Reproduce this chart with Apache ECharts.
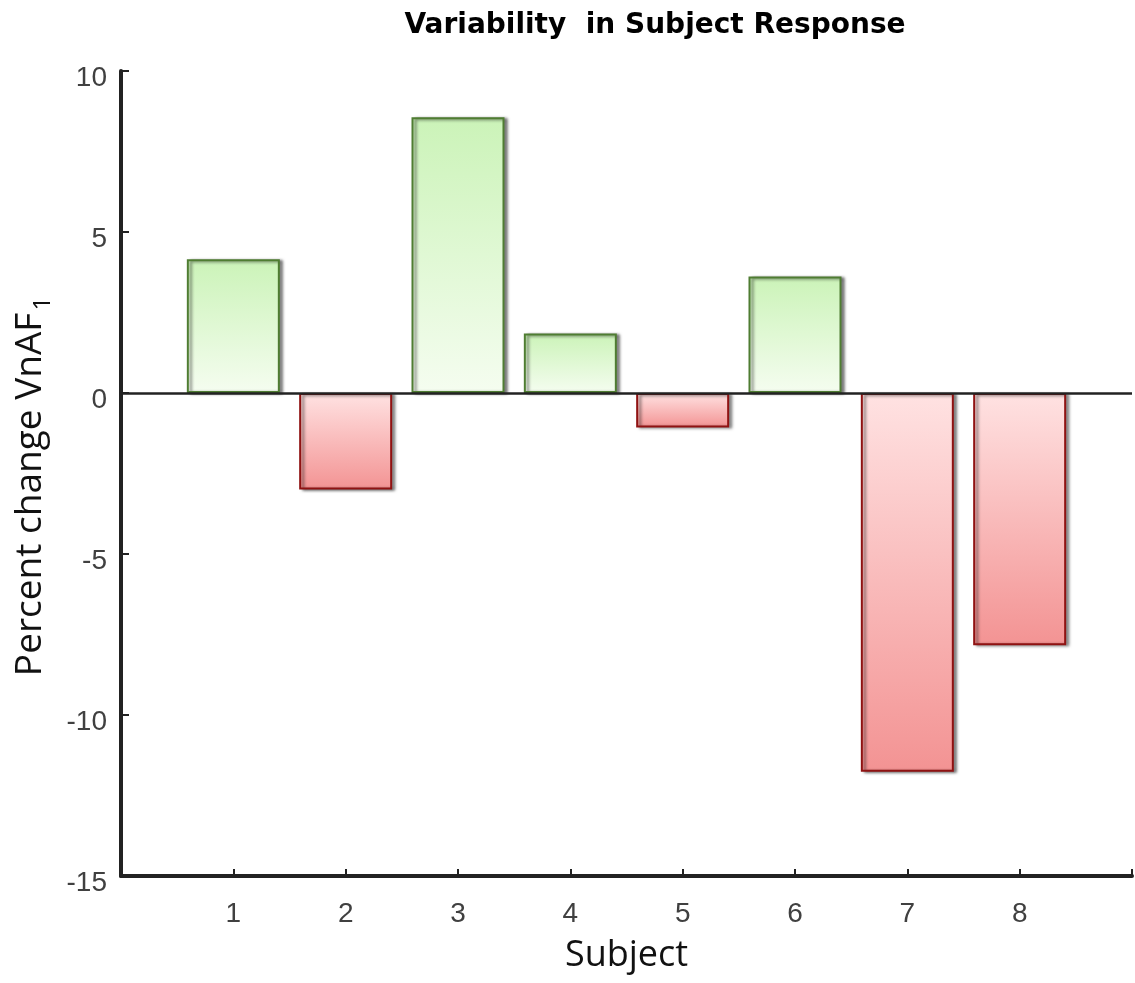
<!DOCTYPE html>
<html>
<head>
<meta charset="utf-8">
<script src="https://cdn.jsdelivr.net/npm/echarts@6/dist/echarts.min.js"></script>
<style>
  html, body { margin: 0; padding: 0; background: #fff; }
  #chart { width: 1135px; height: 983px; }
</style>
</head>
<body>
<div id="chart"></div>
<script>
// subjects and percent change values
const subjects = [1, 2, 3, 4, 5, 6, 7, 8];
const changes = [4.15, -3.0, 8.56, 1.85, -1.07, 3.62, -11.76, -7.83];
const yTicks = [-15, -10, -5, 0, 5, 10];

const chart = echarts.init(document.getElementById('chart'));

// green for increase, red for decrease
function barStyle(v) {
  if (v >= 0) {
    return {
      color: new echarts.graphic.LinearGradient(0, 0, 0, 1, [
        {offset: 0, color: '#cbf3b8'},
        {offset: 1, color: '#f5fdf0'}
      ]),
      borderColor: '#4f7d32',
      borderWidth: 2,
      shadowColor: 'rgba(0,0,0,0.5)',
      shadowOffsetX: 3,
      shadowOffsetY: 1,
      shadowBlur: 3
    };
  }
  return {
    color: new echarts.graphic.LinearGradient(0, 0, 0, 1, [
      {offset: 0, color: '#ffe2e2'},
      {offset: 1, color: '#f39393'}
    ]),
    borderColor: '#8f1212',
    borderWidth: 2,
    shadowColor: 'rgba(0,0,0,0.5)',
    shadowOffsetX: 3,
    shadowOffsetY: 1,
    shadowBlur: 3
  };
}

const barData = subjects.map((s, i) => ({
  value: [s, changes[i]],
  itemStyle: barStyle(changes[i])
}));

const option = {
  animation: false,
  title: {
    text: 'Variability  in Subject Response',
    left: 650,
    top: 7,
    textAlign: 'center',
    textStyle: {
      fontFamily: 'DejaVu Sans',
      fontWeight: 'bold',
      fontSize: 28,
      color: '#000'
    }
  },
  grid: {left: 121, right: 0, top: 71, bottom: 107, containLabel: false},
  xAxis: {
    type: 'value',
    min: 0,
    max: 9,
    interval: 1,
    name: 'Subject',
    nameLocation: 'middle',
    nameGap: 62,
    nameTextStyle: {fontFamily: 'Open Sans', fontSize: 36, color: '#111'},
    axisLine: {onZero: false, lineStyle: {color: '#222', width: 4}},
    axisTick: {inside: true, length: 7, lineStyle: {color: '#222', width: 2}},
    axisLabel: {
      margin: 24,
      fontFamily: 'Liberation Sans',
      fontSize: 28,
      color: '#404040',
      formatter: v => (v >= 1 && v <= 8 ? String(v) : '')
    },
    splitLine: {show: false}
  },
  yAxis: {
    type: 'value',
    min: -15,
    max: 10,
    interval: 5,
    name: '{a|Percent change VnAF}{s|1}',
    nameLocation: 'middle',
    nameGap: 62,
    nameTextStyle: {
      padding: [0, 26, 0, 0],
      rich: {
        a: {fontFamily: 'Open Sans', fontSize: 37, color: '#111', lineHeight: 36, verticalAlign: 'top'},
        s: {fontFamily: 'Open Sans', fontSize: 24, color: '#111', lineHeight: 24, verticalAlign: 'top', padding: [20, 0, 0, 2]}
      }
    },
    axisLine: {show: true, lineStyle: {color: '#222', width: 4}},
    axisTick: {inside: true, length: 8, lineStyle: {color: '#222', width: 2}},
    axisLabel: {
      margin: 14,
      fontFamily: 'Liberation Sans',
      fontSize: 28,
      color: '#404040',
      verticalAlign: 'top',
      lineHeight: 14,
      formatter: v => (yTicks.indexOf(v) >= 0 ? String(v) : '')
    },
    splitLine: {show: false}
  },
  series: [{
    type: 'bar',
    barWidth: 93,
    data: barData,
    markLine: {
      silent: true,
      symbol: 'none',
      label: {show: false},
      lineStyle: {color: '#222', width: 2.5, type: 'solid'},
      data: [{yAxis: 0}]
    }
  }]
};

chart.setOption(option);
</script>
</body>
</html>
